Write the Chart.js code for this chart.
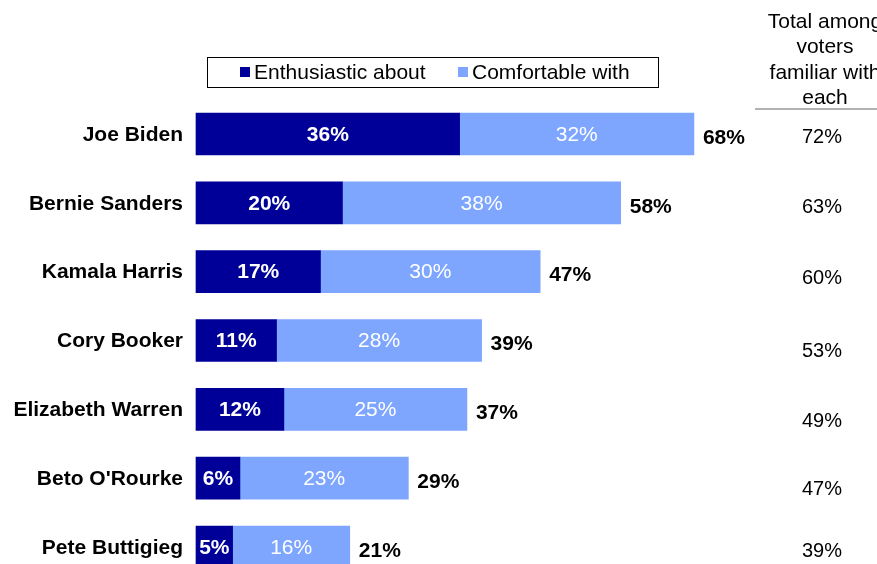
<!DOCTYPE html>
<html>
<head>
<meta charset="utf-8">
<script src="https://cdn.jsdelivr.net/npm/chart.js@4.4.1/dist/chart.umd.min.js"></script>
<style>
  html, body { margin: 0; padding: 0; background: #fff; }
  #wrap { width: 877px; height: 564px; position: relative; }
</style>
</head>
<body>
<div id="wrap"><canvas id="myChart" width="877" height="564"></canvas></div>
<script>
const candidates = ["Joe Biden", "Bernie Sanders", "Kamala Harris", "Cory Booker", "Elizabeth Warren", "Beto O'Rourke", "Pete Buttigieg"];
const enthusiastic = [36, 20, 17, 11, 12, 6, 5];
const comfortable = [32, 38, 30, 28, 25, 23, 16];
const totals = [68, 58, 47, 39, 37, 29, 21];
const familiarTotals = [72, 63, 60, 53, 49, 47, 39];
const seriesNames = ["Enthusiastic about", "Comfortable with"];
const familiarHeader = ["Total among", "voters", "familiar with", "each"];

const DARK = "#000099";
const LIGHT = "#7ea6ff";
const FONT = "'Liberation Sans', Arial, sans-serif";

// small vertical nudges for the right-hand column text
const familiarNudge = [3, 5, 7, 11, 12, 11, 4];

const labelsPlugin = {
    id: "labelsPlugin",
    afterDatasetsDraw(chart) {
        const ctx = chart.ctx;
        const metaA = chart.getDatasetMeta(0);
        const metaB = chart.getDatasetMeta(1);
        ctx.save();
        ctx.textBaseline = "middle";

        for (let i = 0; i < candidates.length; i++) {
            const a = metaA.data[i];
            const b = metaB.data[i];
            const y = a.y;

            // candidate name
            ctx.font = "bold 21px " + FONT;
            ctx.fillStyle = "#000";
            ctx.textAlign = "right";
            ctx.fillText(candidates[i], 183, y + 1);

            // values inside the bars
            ctx.textAlign = "center";
            ctx.fillStyle = "#fff";
            ctx.font = "bold 21px " + FONT;
            ctx.fillText(enthusiastic[i] + "%", (a.base + a.x) / 2, y + 1);
            ctx.font = "21px " + FONT;
            ctx.fillText(comfortable[i] + "%", (b.base + b.x) / 2, y + 1);

            // total at the end of the bar
            ctx.textAlign = "left";
            ctx.fillStyle = "#000";
            ctx.font = "bold 21px " + FONT;
            ctx.fillText(totals[i] + "%", b.x + 9, y + 4);

            // total among voters familiar with each
            ctx.textAlign = "center";
            ctx.font = "20px " + FONT;
            ctx.fillText(familiarTotals[i] + "%", 822, y + familiarNudge[i]);
        }

        // header of the right-hand column
        ctx.font = "21px " + FONT;
        ctx.textAlign = "center";
        familiarHeader.forEach((line, k) => {
            ctx.fillText(line, 825, 22 + k * 25.5);
        });
        ctx.strokeStyle = "#999";
        ctx.lineWidth = 1.5;
        ctx.beginPath();
        ctx.moveTo(755, 109);
        ctx.lineTo(877, 109);
        ctx.stroke();

        // legend box
        ctx.strokeStyle = "#000";
        ctx.lineWidth = 1;
        ctx.strokeRect(207.5, 57.5, 451, 30);
        const legendX = [240, 458];
        ctx.font = "21px " + FONT;
        ctx.textAlign = "left";
        chart.data.datasets.forEach((ds, k) => {
            ctx.fillStyle = ds.backgroundColor;
            ctx.fillRect(legendX[k], 67, 10, 10);
            ctx.fillStyle = "#000";
            ctx.fillText(ds.label, legendX[k] + 14, 73);
        });

        ctx.restore();
    }
};

const ctx = document.getElementById("myChart").getContext("2d");
new Chart(ctx, {
    type: "bar",
    data: {
        labels: candidates,
        datasets: [{
            label: seriesNames[0],
            data: enthusiastic,
            backgroundColor: DARK,
            barThickness: 42,
            clip: false
        }, {
            label: seriesNames[1],
            data: comfortable,
            backgroundColor: LIGHT,
            barThickness: 42,
            clip: false
        }]
    },
    options: {
        indexAxis: "y",
        responsive: false,
        animation: false,
        layout: {
            padding: { left: 196, right: 0, top: 134, bottom: 17 }
        },
        plugins: {
            legend: { display: false },
            tooltip: { enabled: false }
        },
        scales: {
            x: { stacked: true, min: 0, max: 93, display: false },
            y: { stacked: true, offset: false, display: false }
        }
    },
    plugins: [labelsPlugin]
});
</script>
</body>
</html>
